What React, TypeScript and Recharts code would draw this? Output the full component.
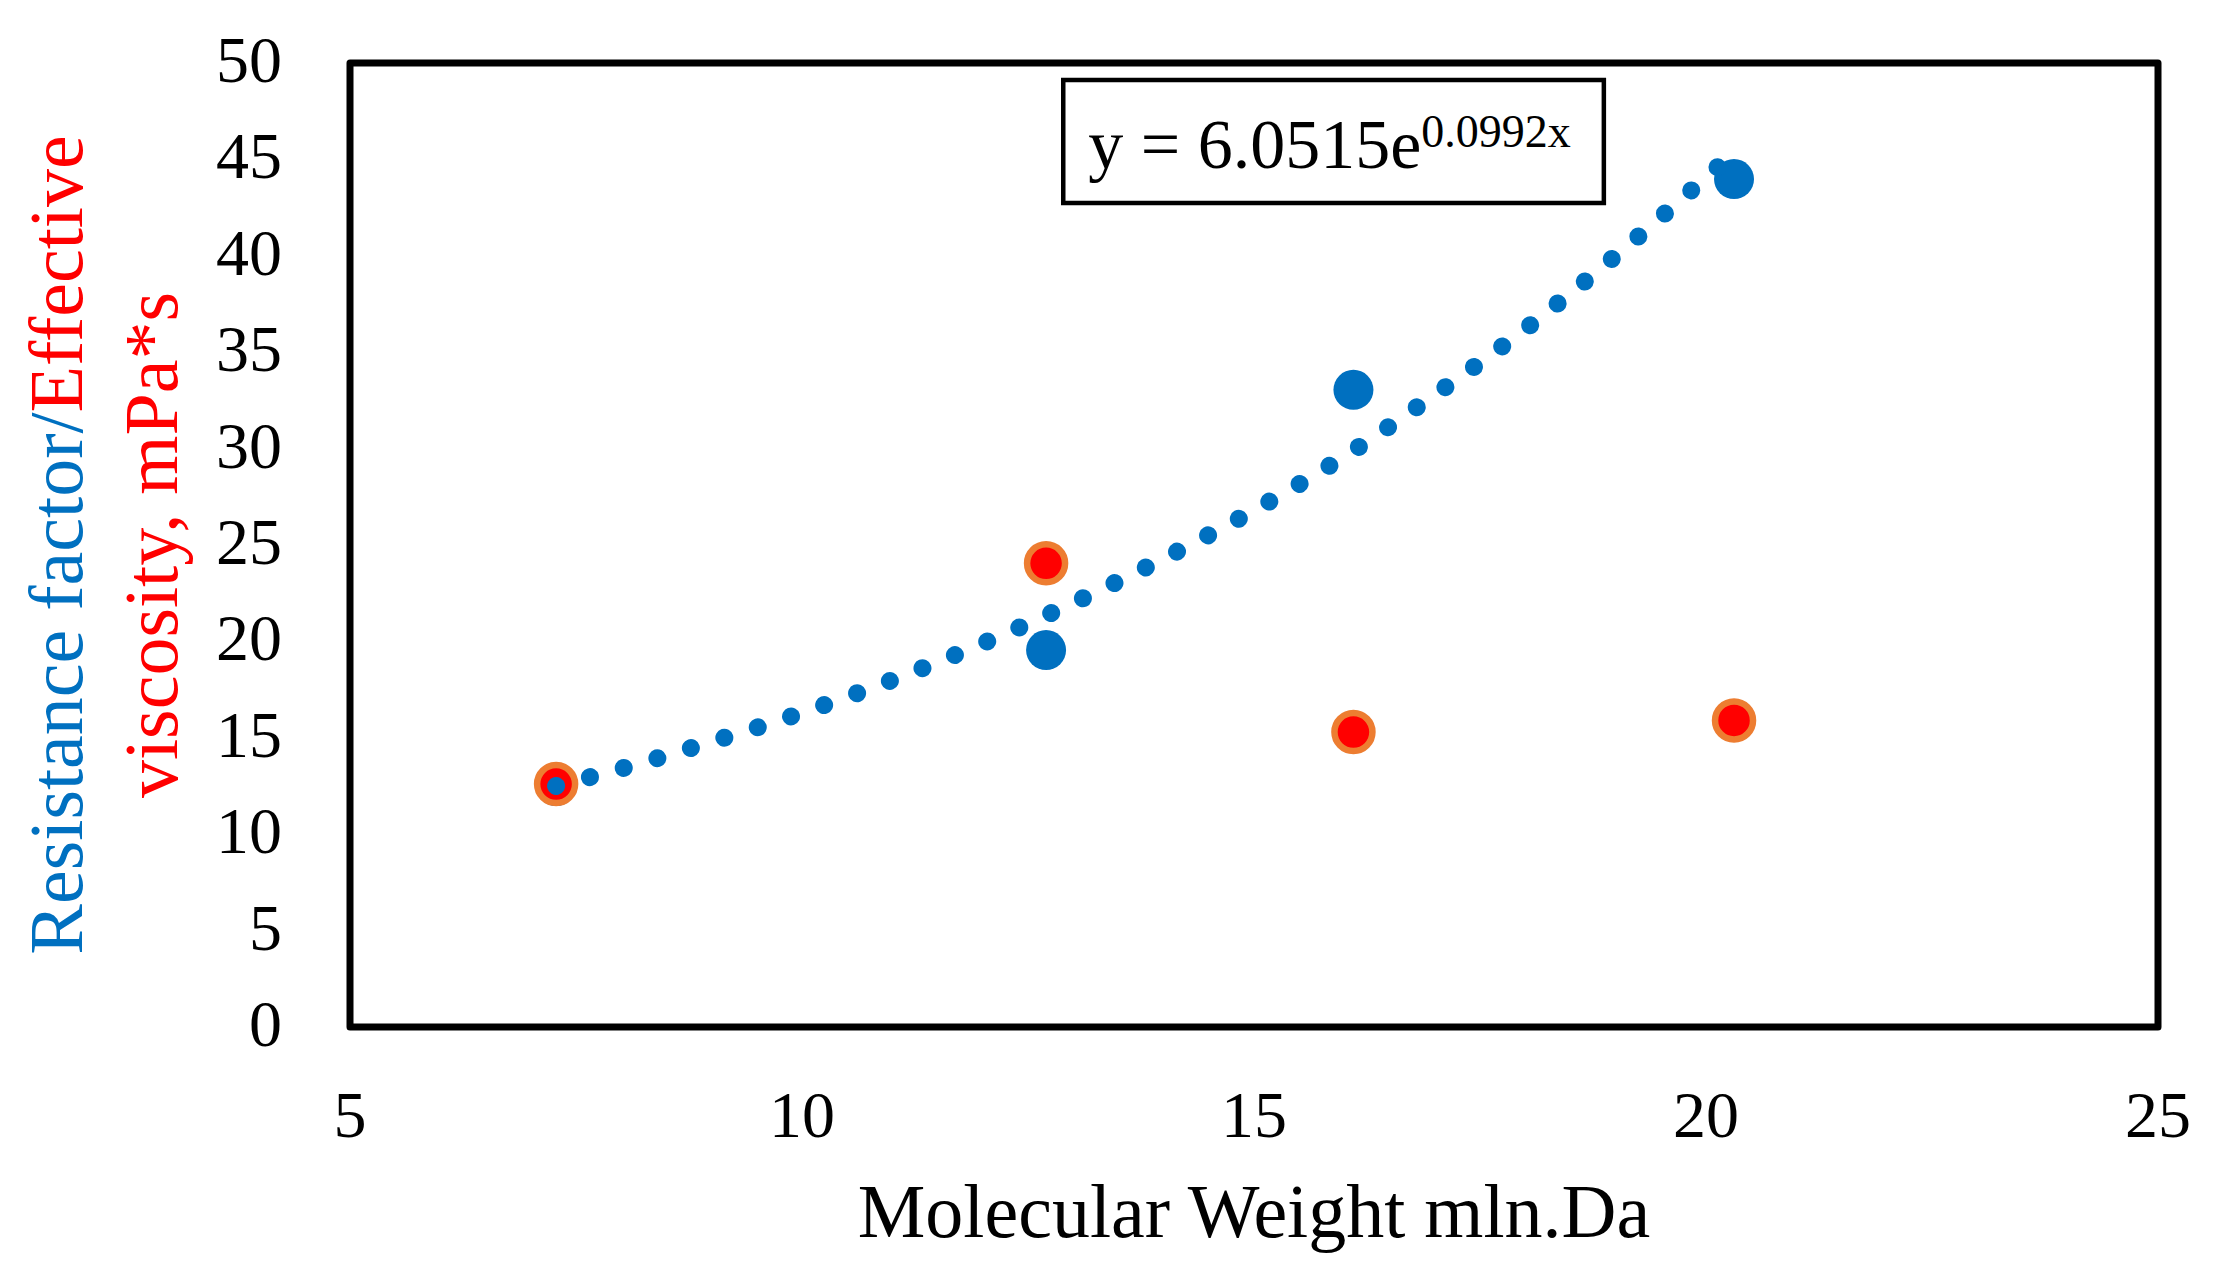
import React from "react";
import {
  ComposedChart,
  XAxis,
  YAxis,
  Scatter,
  Line,
  ReferenceArea,
} from "recharts";

// ---- data ----
const molecularWeight = [7.28, 12.7, 16.1, 20.31];
const resistanceFactor = [12.5, 19.55, 33.05, 43.98];
const effectiveViscosity = [12.6, 24.05, 15.3, 15.9];

const trendX = [7.28, 8, 9, 10, 11, 12, 13, 14, 15, 16, 17, 18, 19, 20.2];
const trendY = [12.5, 13.4, 14.8, 16.3, 18.0, 19.9, 22.0, 24.3, 26.8, 29.6, 32.8, 36.2, 40.0, 44.9];

const xTicks = [5, 10, 15, 20, 25];
const yTicks = [0, 5, 10, 15, 20, 25, 30, 35, 40, 45, 50];
const xDomain = [5, 25];
const yDomain = [0, 50];

const equationMain = "y = 6.0515e";
const equationExp = "0.0992x";
const xTitle = "Molecular Weight mln.Da";
const yTitleBlue = "Resistance factor/";
const yTitleRed1 = "Effective";
const yTitleRed2 = "viscosity, mPa*s";

// ---- derived tables ----
const blueData = molecularWeight.map((x, i) => ({ x, y: resistanceFactor[i] }));
const redData = molecularWeight.map((x, i) => ({ x, y: effectiveViscosity[i] }));
const trendData = trendX.map((x, i) => ({ x, y: trendY[i] }));

// equation box position (data space)
const EQ_BOX = { x1: 12.89, x2: 18.87, y1: 42.74, y2: 49.12 };

const FONT = "'Liberation Serif', 'Times New Roman', serif";
const BLUE = "#0070C0";
const RED = "#FF0000";
const ORANGE = "#ED7D31";

const XTick = (props: any) => {
  const { x, y, payload } = props;
  return (
    <text x={x} y={y} dy={110} textAnchor="middle" fontSize={66} fontFamily={FONT} fill="#000">
      {payload.value}
    </text>
  );
};

const YTick = (props: any) => {
  const { x, y, payload } = props;
  return (
    <text x={x - 68} y={y} dy={19} textAnchor="end" fontSize={66} fontFamily={FONT} fill="#000">
      {payload.value}
    </text>
  );
};

const BlueDot = (props: any) => (
  <circle cx={props.cx} cy={props.cy} r={20} fill={BLUE} />
);

const RedDot = (props: any) => (
  <circle cx={props.cx} cy={props.cy} r={19} fill={RED} stroke={ORANGE} strokeWidth={6.5} />
);

const EquationLabel = (props: any) => {
  const vb = props.viewBox || {};
  return (
    <text x={vb.x + 25} y={vb.y + 88} fontSize={70} fontFamily={FONT} fill="#000">
      {equationMain}
      <tspan fontSize={46} dy={-21}>
        {equationExp}
      </tspan>
    </text>
  );
};

const XTitle = (props: any) => {
  const vb = props.viewBox || {};
  const cx = vb.x + vb.width / 2;
  return (
    <text x={cx} y={1237} textAnchor="middle" fontSize={76} fontFamily={FONT} fill="#000">
      {xTitle}
    </text>
  );
};

const YTitle = (props: any) => {
  const vb = props.viewBox || {};
  const cy = vb.y + vb.height / 2;
  const x1 = 82;
  const x2 = 177;
  return (
    <g>
      <text
        x={x1}
        y={cy}
        transform={`rotate(-90, ${x1}, ${cy})`}
        textAnchor="middle"
        fontSize={76}
        fontFamily={FONT}
      >
        <tspan fill={BLUE}>{yTitleBlue}</tspan>
        <tspan fill={RED}>{yTitleRed1}</tspan>
      </text>
      <text
        x={x2}
        y={cy}
        transform={`rotate(-90, ${x2}, ${cy})`}
        textAnchor="middle"
        fontSize={76}
        fontFamily={FONT}
        fill={RED}
      >
        {yTitleRed2}
      </text>
    </g>
  );
};

export default function App() {
  const lineProps: any = { zIndex: 1000 };
  return (
    <div style={{ position: "absolute", left: 0, top: 0, background: "#fff" }}>
      <ComposedChart
        width={2219}
        height={1271}
        margin={{ top: 63, right: 61, bottom: 0, left: 0 }}
      >
        <XAxis
          type="number"
          dataKey="x"
          domain={xDomain}
          ticks={xTicks}
          allowDataOverflow
          axisLine={false}
          tickLine={false}
          tickSize={0}
          tickMargin={0}
          height={244}
          tick={<XTick />}
          label={<XTitle />}
        />
        <YAxis
          type="number"
          dataKey="y"
          domain={yDomain}
          ticks={yTicks}
          allowDataOverflow
          axisLine={false}
          tickLine={false}
          tickSize={0}
          tickMargin={0}
          width={350}
          tick={<YTick />}
          label={<YTitle />}
        />
        <ReferenceArea
          x1={xDomain[0]}
          x2={xDomain[1]}
          y1={yDomain[0]}
          y2={yDomain[1]}
          fill="none"
          fillOpacity={0}
          stroke="#000"
          strokeWidth={7}
          strokeOpacity={1}
          strokeLinejoin="round"
          ifOverflow="visible"
        />
        <ReferenceArea
          x1={EQ_BOX.x1}
          x2={EQ_BOX.x2}
          y1={EQ_BOX.y1}
          y2={EQ_BOX.y2}
          fill="#fff"
          fillOpacity={1}
          stroke="#000"
          strokeWidth={4.5}
          strokeOpacity={1}
          ifOverflow="visible"
          label={<EquationLabel />}
        />
        <Scatter data={blueData} dataKey="y" shape={<BlueDot />} isAnimationActive={false} />
        <Scatter data={redData} dataKey="y" shape={<RedDot />} isAnimationActive={false} />
        <Line
          {...lineProps}
          data={trendData}
          dataKey="y"
          type="monotone"
          stroke={BLUE}
          strokeWidth={18}
          strokeLinecap="round"
          strokeDasharray="0.01 35"
          dot={false}
          activeDot={false}
          isAnimationActive={false}
        />
      </ComposedChart>
    </div>
  );
}
